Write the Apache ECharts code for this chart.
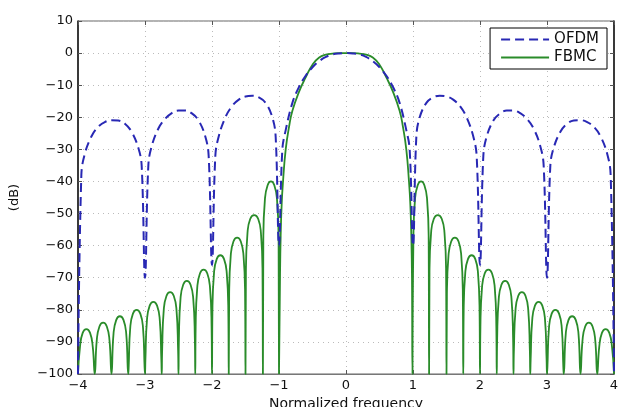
<!DOCTYPE html>
<html>
<head>
<meta charset="utf-8">
<script src="https://cdn.jsdelivr.net/npm/echarts@6/dist/echarts.min.js"></script>
<style>
  html, body { margin: 0; padding: 0; background: #fff; }
  #chart { width: 618px; height: 407px; }
</style>
</head>
<body>
<div id="chart"></div>
<script>
// 坐标轴刻度
const xTicks = [-4, -3, -2, -1, 0, 1, 2, 3, 4];
const yTicks = [10, 0, -10, -20, -30, -40, -50, -60, -70, -80, -90, -100];

// OFDM 频谱 [归一化频率, dB]
const ofdmData = [
  [-4, -100], [-3.95, -38], [-3.9, -31.5], [-3.8, -26], [-3.7, -23], [-3.6, -21.5], [-3.5, -20.9],
  [-3.4, -21], [-3.3, -22], [-3.2, -24.5], [-3.1, -29.5], [-3.05, -35], [-3, -70],
  [-2.95, -35], [-2.9, -29], [-2.8, -23.5], [-2.7, -20.5], [-2.6, -18.7], [-2.5, -17.9],
  [-2.4, -17.9], [-2.3, -18.8], [-2.2, -21], [-2.1, -26], [-2.05, -32], [-2, -66],
  [-1.95, -32], [-1.9, -26], [-1.8, -20], [-1.7, -16.5], [-1.6, -14.5], [-1.5, -13.5],
  [-1.4, -13.3], [-1.3, -13.8], [-1.2, -15.5], [-1.1, -20], [-1.05, -26], [-1, -60],
  [-0.95, -30], [-0.9, -24], [-0.8, -15.5], [-0.7, -10.5], [-0.6, -7], [-0.5, -4.4],
  [-0.4, -2.5], [-0.3, -1.2], [-0.2, -0.4], [-0.1, -0.1], [0, 0],
  [0.1, -0.1], [0.2, -0.4], [0.3, -1.2], [0.4, -2.5], [0.5, -4.4], [0.6, -7],
  [0.7, -10.5], [0.8, -15.5], [0.9, -24], [0.95, -30], [1, -60],
  [1.05, -26], [1.1, -20], [1.2, -15.5], [1.3, -13.8], [1.4, -13.3], [1.5, -13.5],
  [1.6, -14.5], [1.7, -16.5], [1.8, -20], [1.9, -26], [1.95, -32], [2, -66],
  [2.05, -32], [2.1, -26], [2.2, -21], [2.3, -18.8], [2.4, -17.9], [2.5, -17.9],
  [2.6, -18.7], [2.7, -20.5], [2.8, -23.5], [2.9, -29], [2.95, -35], [3, -70],
  [3.05, -35], [3.1, -29.5], [3.2, -24.5], [3.3, -22], [3.4, -21], [3.5, -20.9],
  [3.6, -21.5], [3.7, -23], [3.8, -26], [3.9, -31.5], [3.95, -38], [4, -100]
];

// FBMC 频谱 [归一化频率, dB]
const fbmcData = [
  [-4, -100], [-3.97, -91.5], [-3.93, -87.2], [-3.875, -86], [-3.82, -87.2], [-3.78, -91.5],
  [-3.75, -100], [-3.72, -89.5], [-3.68, -85.2], [-3.625, -84], [-3.57, -85.2], [-3.53, -89.5],
  [-3.5, -100], [-3.47, -87.5], [-3.43, -83.2], [-3.375, -82], [-3.32, -83.2], [-3.28, -87.5],
  [-3.25, -100], [-3.244, -98], [-3.22, -85.5], [-3.18, -81.2], [-3.125, -80], [-3.07, -81.2], [-3.03, -85.5], [-3.006, -98],
  [-3, -100], [-2.994, -95.5], [-2.97, -83], [-2.93, -78.7], [-2.875, -77.5], [-2.82, -78.7], [-2.78, -83], [-2.756, -95.5],
  [-2.75, -100], [-2.744, -92.5], [-2.72, -80], [-2.68, -75.7], [-2.625, -74.5], [-2.57, -75.7], [-2.53, -80], [-2.506, -92.5],
  [-2.5, -100], [-2.494, -89], [-2.47, -76.5], [-2.43, -72.2], [-2.375, -71], [-2.32, -72.2], [-2.28, -76.5], [-2.256, -89],
  [-2.25, -100], [-2.244, -85.5], [-2.22, -73], [-2.18, -68.7], [-2.125, -67.5], [-2.07, -68.7], [-2.03, -73], [-2.006, -85.5],
  [-2, -100], [-1.994, -81], [-1.97, -68.5], [-1.93, -64.2], [-1.875, -63], [-1.82, -64.2], [-1.78, -68.5], [-1.756, -81],
  [-1.75, -100], [-1.744, -75.5], [-1.72, -63], [-1.68, -58.7], [-1.625, -57.5], [-1.57, -58.7], [-1.53, -63], [-1.506, -75.5],
  [-1.5, -100], [-1.494, -68.5], [-1.47, -56], [-1.43, -51.7], [-1.37, -50.5], [-1.31, -51.7], [-1.27, -56], [-1.246, -68.5],
  [-1.24, -100], [-1.234, -58], [-1.21, -45.5], [-1.17, -41.2], [-1.12, -40], [-1.07, -41.2], [-1.03, -45.5], [-1.006, -58],
  [-1, -100],
  [-0.993, -100], [-0.985, -70], [-0.975, -57], [-0.96, -47], [-0.94, -40], [-0.9, -30], [-0.85, -23],
  [-0.8, -18], [-0.7, -12], [-0.6, -7.5], [-0.5, -3.6], [-0.4, -1.4], [-0.3, -0.5],
  [-0.2, -0.15], [-0.1, 0], [0, 0], [0.1, 0], [0.2, -0.15], [0.3, -0.5], [0.4, -1.4],
  [0.5, -3.6], [0.6, -7.5], [0.7, -12], [0.8, -18], [0.85, -23], [0.9, -30], [0.94, -40],
  [0.96, -47], [0.975, -57], [0.985, -70], [0.993, -100],
  [1, -100],
  [1.006, -58], [1.03, -45.5], [1.07, -41.2], [1.12, -40], [1.17, -41.2], [1.21, -45.5], [1.234, -58], [1.24, -100],
  [1.246, -68.5], [1.27, -56], [1.31, -51.7], [1.37, -50.5], [1.43, -51.7], [1.47, -56], [1.494, -68.5], [1.5, -100],
  [1.506, -75.5], [1.53, -63], [1.57, -58.7], [1.625, -57.5], [1.68, -58.7], [1.72, -63], [1.744, -75.5], [1.75, -100],
  [1.756, -81], [1.78, -68.5], [1.82, -64.2], [1.875, -63], [1.93, -64.2], [1.97, -68.5], [1.994, -81], [2, -100],
  [2.006, -85.5], [2.03, -73], [2.07, -68.7], [2.125, -67.5], [2.18, -68.7], [2.22, -73], [2.244, -85.5], [2.25, -100],
  [2.256, -89], [2.28, -76.5], [2.32, -72.2], [2.375, -71], [2.43, -72.2], [2.47, -76.5], [2.494, -89], [2.5, -100],
  [2.506, -92.5], [2.53, -80], [2.57, -75.7], [2.625, -74.5], [2.68, -75.7], [2.72, -80], [2.744, -92.5], [2.75, -100],
  [2.756, -95.5], [2.78, -83], [2.82, -78.7], [2.875, -77.5], [2.93, -78.7], [2.97, -83], [2.994, -95.5], [3, -100],
  [3.006, -98], [3.03, -85.5], [3.07, -81.2], [3.125, -80], [3.18, -81.2], [3.22, -85.5], [3.244, -98], [3.25, -100],
  [3.28, -87.5], [3.32, -83.2], [3.375, -82], [3.43, -83.2], [3.47, -87.5], [3.5, -100],
  [3.53, -89.5], [3.57, -85.2], [3.625, -84], [3.68, -85.2], [3.72, -89.5], [3.75, -100],
  [3.78, -91.5], [3.82, -87.2], [3.875, -86], [3.93, -87.2], [3.97, -91.5], [4, -100]
];

const fontFamily = '"DejaVu Sans", "Liberation Sans", Arial, sans-serif';
const minus = v => String(v).replace('-', '\u2212');

let chart = echarts.init(document.getElementById('chart'));

let option = {
  animation: false,
  backgroundColor: '#fff',
  textStyle: { fontFamily: fontFamily },
  grid: {
    left: 78,
    right: 4,
    top: 21,
    bottom: 33,
    outerBoundsMode: 'none',
    containLabel: false,
    show: true,
    borderColor: '#666',
    borderWidth: 1
  },
  legend: {
    right: 11,
    top: 28,
    orient: 'vertical',
    itemWidth: 48,
    itemHeight: 14,
    itemGap: 3,
    padding: [4, 8, 4, 10],
    borderColor: '#000',
    borderWidth: 1,
    borderRadius: 0,
    backgroundColor: '#fff',
    itemStyle: { opacity: 0 },
    textStyle: { fontSize: 15, color: '#111', fontFamily: fontFamily },
    data: ['OFDM', 'FBMC']
  },
  xAxis: [{
    type: 'value',
    min: xTicks[0],
    max: xTicks[xTicks.length - 1],
    interval: 1,
    name: 'Normalized frequency',
    nameLocation: 'middle',
    nameGap: 22,
    nameTextStyle: { fontSize: 14, color: '#111' },
    axisLine: { onZero: false, lineStyle: { color: '#777', width: 1 } },
    axisTick: { inside: true, length: 4, lineStyle: { color: '#555' } },
    axisLabel: { fontSize: 13, color: '#111', margin: 5, formatter: minus },
    splitLine: { show: true, lineStyle: { color: '#bbb', type: [1, 4] } }
  }, {
    type: 'value',
    position: 'top',
    min: xTicks[0],
    max: xTicks[xTicks.length - 1],
    interval: 1,
    axisLine: { show: false, onZero: false },
    axisTick: { inside: true, length: 4, lineStyle: { color: '#555' } },
    axisLabel: { show: false },
    splitLine: { show: false }
  }],
  yAxis: [{
    type: 'value',
    min: yTicks[yTicks.length - 1],
    max: yTicks[0],
    interval: 10,
    name: '(dB)',
    nameLocation: 'middle',
    nameGap: 57,
    nameTextStyle: { fontSize: 13, color: '#111' },
    axisLine: { show: true, onZero: false, lineStyle: { color: '#111', width: 1.5 } },
    axisTick: { show: true, inside: true, length: 4, lineStyle: { color: '#555' } },
    axisLabel: { fontSize: 13, color: '#111', margin: 5, formatter: minus },
    splitLine: { show: true, lineStyle: { color: '#bbb', type: [1, 4] } }
  }, {
    type: 'value',
    position: 'right',
    min: yTicks[yTicks.length - 1],
    max: yTicks[0],
    interval: 10,
    axisLine: { show: true, onZero: false, lineStyle: { color: '#111', width: 1.5 } },
    axisTick: { show: true, inside: true, length: 4, lineStyle: { color: '#555' } },
    axisLabel: { show: false },
    splitLine: { show: false }
  }],
  series: [{
    name: 'OFDM',
    type: 'line',
    data: ofdmData,
    showSymbol: false,
    symbol: 'none',
    smooth: 0.4,
    lineStyle: { color: '#2828b4', width: 2, type: [9, 5] },
    itemStyle: { color: '#2828b4' },
    z: 3
  }, {
    name: 'FBMC',
    type: 'line',
    data: fbmcData,
    showSymbol: false,
    symbol: 'none',
    smooth: 0.5,
    lineStyle: { color: '#2a8c2a', width: 1.8 },
    itemStyle: { color: '#2a8c2a' },
    z: 2
  }]
};

chart.setOption(option);
</script>
</body>
</html>
